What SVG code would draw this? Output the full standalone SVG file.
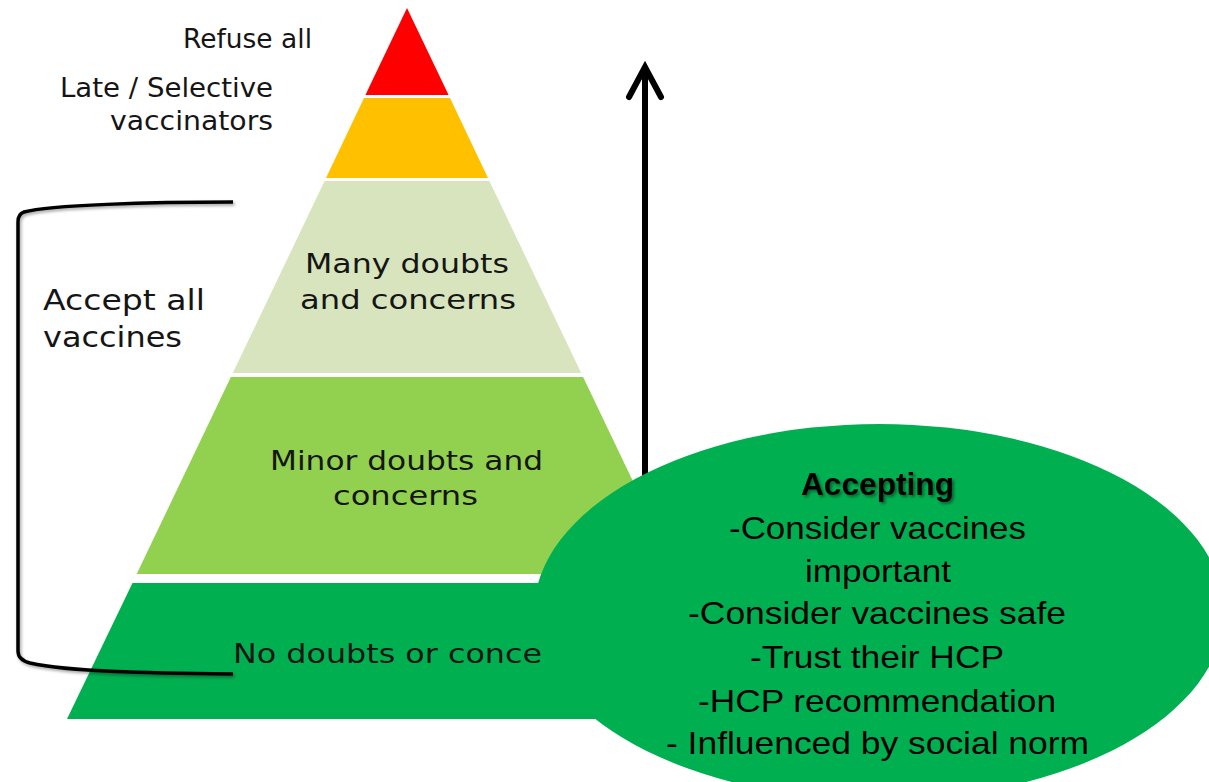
<svg xmlns="http://www.w3.org/2000/svg" width="1209" height="782" viewBox="0 0 1209 782">
<defs>
<style>
.lbl{font-family:"DejaVu Sans","Liberation Sans",sans-serif;font-size:27px;fill:#151515;}
.side{font-size:26px;}
.ell{font-family:"Liberation Sans Narrow","Liberation Sans",Arial,sans-serif;font-size:32px;fill:#000;text-anchor:middle;}
.mid{text-anchor:middle;}
</style>
<filter id="sh" x="-20%" y="-20%" width="140%" height="140%">
<feDropShadow dx="2" dy="2" stdDeviation="1.5" flood-color="#000" flood-opacity="0.45"/>
</filter>
<filter id="bsh" x="-10%" y="-10%" width="120%" height="120%">
<feDropShadow dx="1.5" dy="2" stdDeviation="1.5" flood-color="#000" flood-opacity="0.35"/>
</filter>
</defs>
<rect width="1209" height="782" fill="#fff"/>

<g id="level-refuse">
<polygon points="407,8 448.6,95 365.4,95" fill="#FF0000"/>
</g>
<g id="level-late">
<polygon points="364,98 450,98 488,178 326,178" fill="#FFC000"/>
</g>
<g id="level-many">
<polygon points="324.6,181 489.4,181 581.2,373 232.8,373" fill="#D7E4BD"/>
<text class="lbl mid" x="407" y="273" textLength="204" lengthAdjust="spacingAndGlyphs">Many doubts</text>
<text class="lbl mid" x="408" y="309" textLength="216" lengthAdjust="spacingAndGlyphs">and concerns</text>
</g>
<g id="level-minor">
<polygon points="230.9,377 583.1,377 677.3,574 136.7,574" fill="#92D050"/>
<text class="lbl mid" x="406.5" y="470" textLength="273" lengthAdjust="spacingAndGlyphs">Minor doubts and</text>
<text class="lbl mid" x="405.5" y="505" textLength="145" lengthAdjust="spacingAndGlyphs">concerns</text>
</g>
<g id="level-none">
<polygon points="132.5,583 681.5,583 747,719 67,719" fill="#00B050"/>
<text class="lbl" x="233" y="663" textLength="309" lengthAdjust="spacingAndGlyphs">No doubts or conce</text>
</g>

<g id="side-labels">
<text class="lbl side" x="183" y="48" textLength="129" lengthAdjust="spacingAndGlyphs">Refuse all</text>
<text class="lbl side" x="60" y="97" textLength="213" lengthAdjust="spacingAndGlyphs">Late / Selective</text>
<text class="lbl side" x="110" y="130" textLength="163" lengthAdjust="spacingAndGlyphs">vaccinators</text>
</g>

<g id="accept-all">
<path d="M233,202 C150,202 50,205 24,212 Q18,214 18,222 L18,651 Q18,660 30,663 C70,672 150,673 233,674" fill="none" stroke="#000" stroke-width="3.5" filter="url(#bsh)"/>
<text class="lbl" x="43" y="310" textLength="162" lengthAdjust="spacingAndGlyphs" style="font-size:29px">Accept all</text>
<text class="lbl" x="43" y="347" textLength="139" lengthAdjust="spacingAndGlyphs" style="font-size:29px">vaccines</text>
</g>

<g id="connectors">
<line x1="645" y1="70" x2="645" y2="490" stroke="#000" stroke-width="6"/>
<polyline points="629,97 645,67 661,97" fill="none" stroke="#000" stroke-width="6" stroke-linecap="round" stroke-linejoin="miter"/>
</g>

<g id="accepting">
<ellipse cx="879" cy="612" rx="345" ry="188" fill="#00B050"/>
<text class="ell" x="877.5" y="495" font-weight="bold" textLength="153" lengthAdjust="spacingAndGlyphs" filter="url(#sh)">Accepting</text>
<text class="ell" x="877.5" y="539" textLength="297" lengthAdjust="spacingAndGlyphs">-Consider vaccines</text>
<text class="ell" x="878" y="582" textLength="146" lengthAdjust="spacingAndGlyphs">important</text>
<text class="ell" x="877" y="624" textLength="378" lengthAdjust="spacingAndGlyphs">-Consider vaccines safe</text>
<text class="ell" x="877" y="668" textLength="254" lengthAdjust="spacingAndGlyphs">-Trust their HCP</text>
<text class="ell" x="877" y="712" textLength="358" lengthAdjust="spacingAndGlyphs">-HCP recommendation</text>
<text class="ell" x="877.5" y="754" textLength="423" lengthAdjust="spacingAndGlyphs">- Influenced by social norm</text>
</g>
</svg>
